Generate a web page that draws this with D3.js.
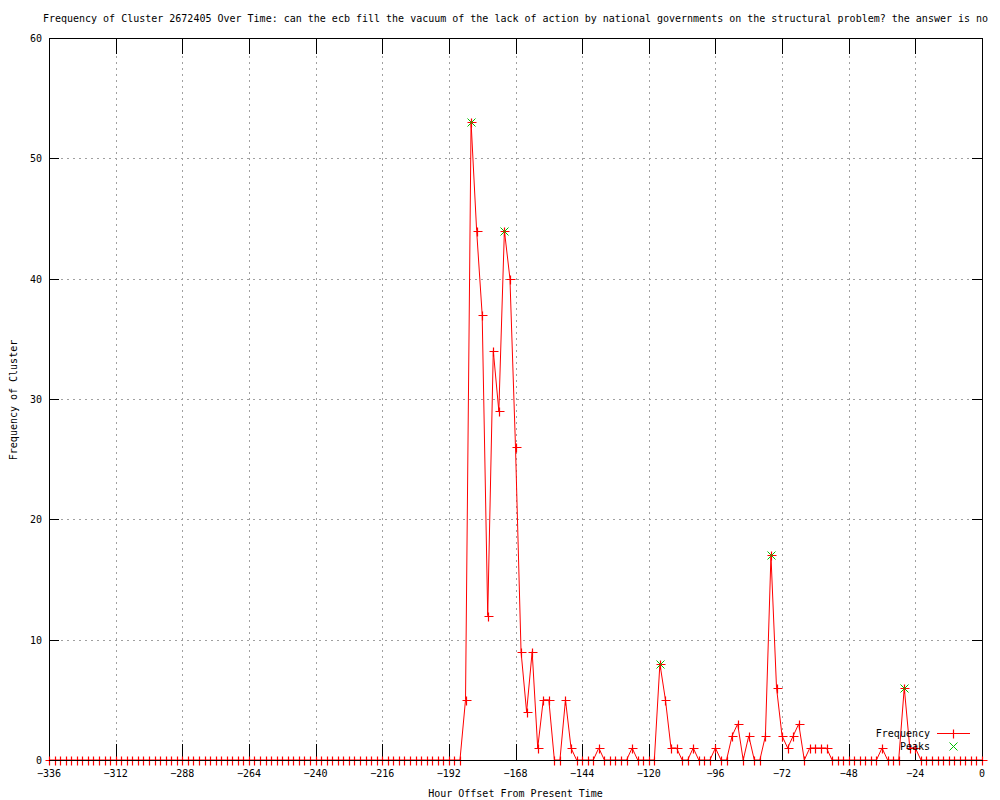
<!DOCTYPE html>
<html>
<head>
<meta charset="utf-8">
<script src="https://cdn.jsdelivr.net/npm/d3@7"></script>
<style>
  body { margin: 0; background: #fff; }
  text { font-family: "DejaVu Sans Mono", monospace; font-size: 10px; fill: #000; }
</style>
</head>
<body>
<svg id="chart" width="1000" height="800"></svg>
<script>
// hour offsets, one point every 2 hours
const hours = [
  -336, -334, -332, -330, -328, -326, -324, -322, -320, -318, -316, -314,
  -312, -310, -308, -306, -304, -302, -300, -298, -296, -294, -292, -290,
  -288, -286, -284, -282, -280, -278, -276, -274, -272, -270, -268, -266,
  -264, -262, -260, -258, -256, -254, -252, -250, -248, -246, -244, -242,
  -240, -238, -236, -234, -232, -230, -228, -226, -224, -222, -220, -218,
  -216, -214, -212, -210, -208, -206, -204, -202, -200, -198, -196, -194,
  -192, -190, -188, -186, -184, -182, -180, -178, -176, -174, -172, -170,
  -168, -166, -164, -162, -160, -158, -156, -154, -152, -150, -148, -146,
  -144, -142, -140, -138, -136, -134, -132, -130, -128, -126, -124, -122,
  -120, -118, -116, -114, -112, -110, -108, -106, -104, -102, -100, -98,
  -96, -94, -92, -90, -88, -86, -84, -82, -80, -78, -76, -74,
  -72, -70, -68, -66, -64, -62, -60, -58, -56, -54, -52, -50,
  -48, -46, -44, -42, -40, -38, -36, -34, -32, -30, -28, -26,
  -24, -22, -20, -18, -16, -14, -12, -10, -8, -6, -4, -2,
  0
];
const frequency = [
  0, 0, 0, 0, 0, 0, 0, 0, 0, 0, 0, 0,
  0, 0, 0, 0, 0, 0, 0, 0, 0, 0, 0, 0,
  0, 0, 0, 0, 0, 0, 0, 0, 0, 0, 0, 0,
  0, 0, 0, 0, 0, 0, 0, 0, 0, 0, 0, 0,
  0, 0, 0, 0, 0, 0, 0, 0, 0, 0, 0, 0,
  0, 0, 0, 0, 0, 0, 0, 0, 0, 0, 0, 0,
  0, 0, 0, 5, 53, 44, 37, 12, 34, 29, 44, 40,
  26, 9, 4, 9, 1, 5, 5, 0, 0, 5, 1, 0,
  0, 0, 0, 1, 0, 0, 0, 0, 0, 1, 0, 0,
  0, 0, 8, 5, 1, 1, 0, 0, 1, 0, 0, 0,
  1, 0, 0, 2, 3, 0, 2, 0, 0, 2, 17, 6,
  2, 1, 2, 3, 0, 1, 1, 1, 1, 0, 0, 0,
  0, 0, 0, 0, 0, 0, 1, 0, 0, 0, 6, 1,
  1, 0, 0, 0, 0, 0, 0, 0, 0, 0, 0, 0,
  0
];
const peakHours = [-184, -172, -116, -76, -28];
const peakValues = [53, 44, 8, 17, 6];

const xTicks = [-336, -312, -288, -264, -240, -216, -192, -168, -144, -120, -96, -72, -48, -24, 0];
const yTicks = [0, 10, 20, 30, 40, 50, 60];

const title = "Frequency of Cluster 2672405 Over Time: can the ecb fill the vacuum of the lack of action by national governments on the structural problem? the answer is no";

const plotL = 49, plotR = 982, plotT = 38, plotB = 760;
const RED = "rgb(255,0,0)", GREEN = "rgb(0,192,0)";

var svg = d3.select("#chart");
var x = d3.scaleLinear().domain([-336, 0]).range([plotL, plotR]);
var y = d3.scaleLinear().domain([0, 60]).range([plotB, plotT]);

// grid lines (dotted)
var grid = svg.append("g")
  .attr("stroke", "#a0a0a0")
  .attr("stroke-dasharray", "2,4")
  .attr("shape-rendering", "crispEdges");
grid.selectAll(".gx")
  .data(xTicks.slice(1, -1))
  .enter().append("line")
  .attr("x1", d => Math.round(x(d)) + 0.5).attr("x2", d => Math.round(x(d)) + 0.5)
  .attr("y1", plotT).attr("y2", plotB);
grid.selectAll(".gy")
  .data(yTicks.slice(1, -1))
  .enter().append("line")
  .attr("y1", d => Math.round(y(d)) + 0.5).attr("y2", d => Math.round(y(d)) + 0.5)
  .attr("x1", plotL).attr("x2", plotR);

// tick marks, inward on all four sides
var ticks = svg.append("g").attr("stroke", "#000").attr("shape-rendering", "crispEdges");
xTicks.forEach(t => {
  var px = Math.round(x(t)) + 0.5;
  ticks.append("line").attr("x1", px).attr("x2", px).attr("y1", plotB).attr("y2", plotB - 16);
  ticks.append("line").attr("x1", px).attr("x2", px).attr("y1", plotT).attr("y2", plotT + 16);
});
yTicks.forEach(t => {
  var py = Math.round(y(t)) + 0.5;
  ticks.append("line").attr("y1", py).attr("y2", py).attr("x1", plotL).attr("x2", plotL + 10);
  ticks.append("line").attr("y1", py).attr("y2", py).attr("x1", plotR).attr("x2", plotR - 10);
});

// border (the data is drawn over it)
svg.append("rect")
  .attr("x", plotL + 0.5).attr("y", plotT + 0.5)
  .attr("width", plotR - plotL).attr("height", plotB - plotT)
  .attr("fill", "none").attr("stroke", "#000")
  .attr("shape-rendering", "crispEdges");

// data line
var pts = hours.map((h, i) => [x(h), y(frequency[i])]);
svg.append("path")
  .attr("d", d3.line()(pts))
  .attr("fill", "none")
  .attr("stroke", RED)
  .attr("stroke-width", 1);

var plus = (cx, cy) => `M${cx - 4},${cy}H${cx + 5}M${cx},${cy - 4}V${cy + 5}`;
var cross = (cx, cy) => `M${cx - 4},${cy - 4}L${cx + 4},${cy + 4}M${cx - 4},${cy + 4}L${cx + 4},${cy - 4}`;

// point markers: vertical arms only drawn as red, horizontal arms as well
var mk = svg.append("g").attr("stroke", RED).attr("stroke-width", 1.2).attr("fill", "none");
mk.selectAll("path")
  .data(pts)
  .enter().append("path")
  .attr("d", p => plus(Math.round(p[0]) + 0.5, Math.round(p[1]) + 0.5));

// baseline: keep the black axis line visible between markers
svg.append("line")
  .attr("x1", plotL).attr("x2", plotR + 1)
  .attr("y1", plotB + 0.5).attr("y2", plotB + 0.5)
  .attr("stroke", "#000").attr("shape-rendering", "crispEdges");

// peaks
svg.append("g").attr("stroke", GREEN).attr("fill", "none")
  .selectAll("path")
  .data(peakHours)
  .enter().append("path")
  .attr("d", (h, i) => cross(Math.round(x(h)) + 0.5, Math.round(y(peakValues[i])) + 0.5));

// tick labels
svg.selectAll(".xl")
  .data(xTicks)
  .enter().append("text")
  .attr("x", d => x(d)).attr("y", 777)
  .attr("text-anchor", "middle")
  .text(d => d === 0 ? "0" : "\u2212" + Math.abs(d));
svg.selectAll(".yl")
  .data(yTicks)
  .enter().append("text")
  .attr("x", 42).attr("y", d => y(d) + 4)
  .attr("text-anchor", "end")
  .text(d => d);

// titles
svg.append("text").attr("x", (plotL + plotR) / 2).attr("y", 22)
  .attr("text-anchor", "middle").text(title);
svg.append("text").attr("x", (plotL + plotR) / 2).attr("y", 797)
  .attr("text-anchor", "middle").text("Hour Offset From Present Time");
svg.append("text")
  .attr("transform", "translate(17,400) rotate(-90)")
  .attr("text-anchor", "middle").text("Frequency of Cluster");

// legend
var lg = svg.append("g");
lg.append("text").attr("x", 930).attr("y", 737).attr("text-anchor", "end").text("Frequency");
lg.append("line").attr("x1", 937).attr("x2", 970).attr("y1", 733.5).attr("y2", 733.5)
  .attr("stroke", RED).attr("stroke-width", 1.2);
lg.append("path").attr("d", plus(953.5, 733.5)).attr("stroke", RED).attr("stroke-width", 1.2);
lg.append("text").attr("x", 930).attr("y", 750).attr("text-anchor", "end").text("Peaks");
lg.append("path").attr("d", cross(953.5, 746.5)).attr("stroke", GREEN).attr("fill", "none");
</script>
</body>
</html>
